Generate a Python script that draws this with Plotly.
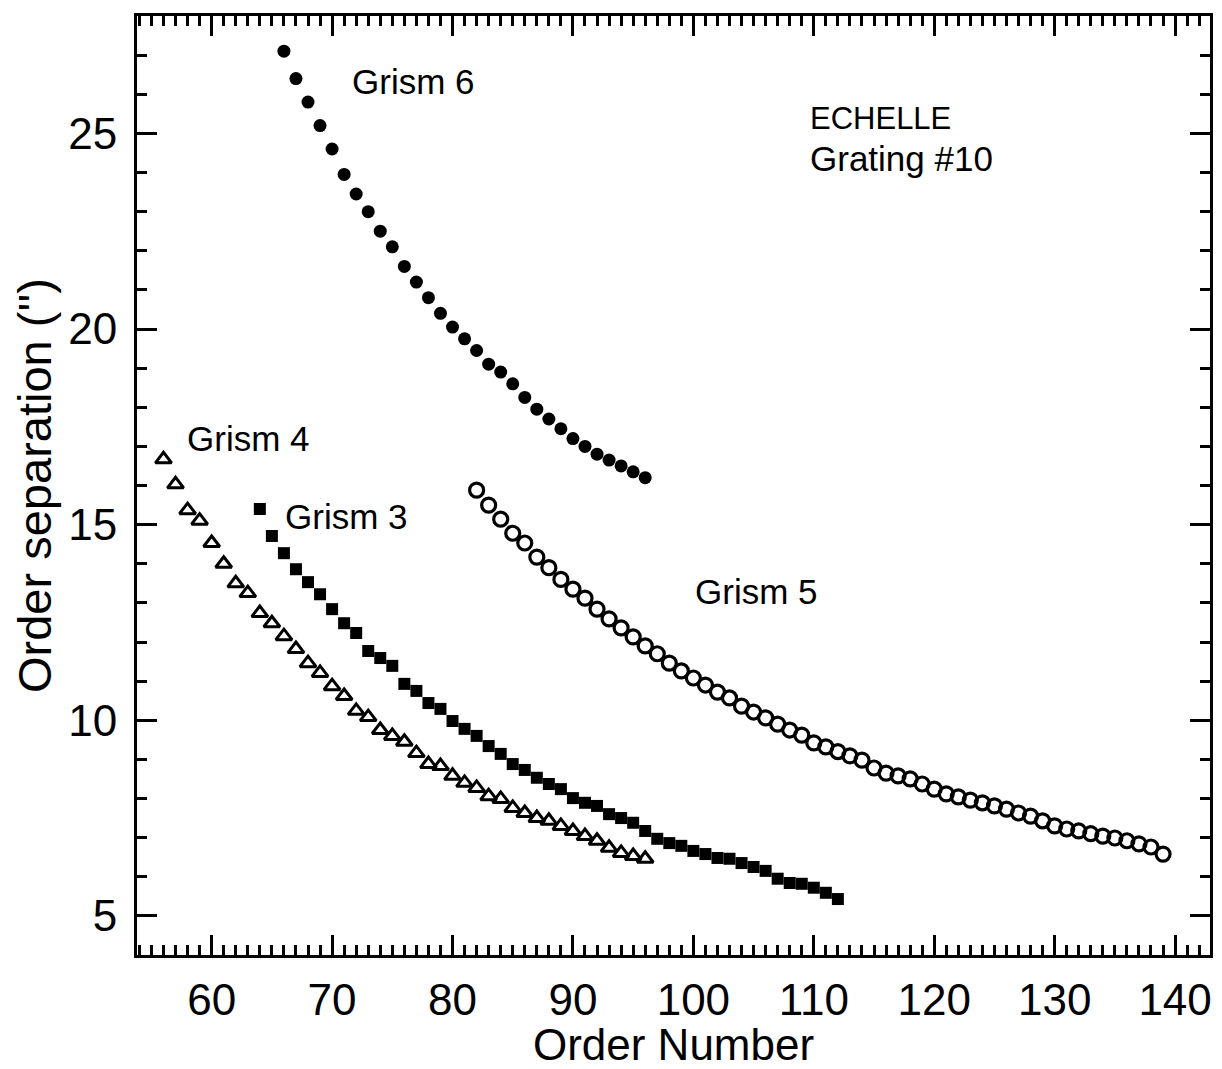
import plotly.graph_objects as go

# ---- data (order number vs order separation in arcsec) ----
grism3_order = list(range(64, 113))
grism3_sep = [15.4, 14.71, 14.27, 13.86, 13.53, 13.22, 12.84, 12.48, 12.23, 11.77,
              11.59, 11.39, 10.93, 10.75, 10.44, 10.29, 9.98, 9.78, 9.6, 9.34,
              9.14, 8.88, 8.73, 8.53, 8.37, 8.24, 8.01, 7.89, 7.81, 7.6,
              7.5, 7.38, 7.17, 6.97, 6.86, 6.79, 6.66, 6.58, 6.48, 6.46,
              6.35, 6.25, 6.15, 5.95, 5.84, 5.82, 5.72, 5.59, 5.43]

grism4_order = list(range(56, 97))
grism4_sep = [16.67, 16.03, 15.37, 15.1, 14.53, 14.0, 13.5, 13.25, 12.74, 12.48,
              12.15, 11.82, 11.46, 11.21, 10.87, 10.62, 10.24, 10.08, 9.75, 9.6,
              9.45, 9.16, 8.88, 8.83, 8.58, 8.4, 8.27, 8.06, 7.99, 7.76,
              7.63, 7.5, 7.43, 7.3, 7.17, 7.04, 6.92, 6.74, 6.61, 6.53, 6.46]

grism5_order = list(range(82, 140))
grism5_sep = [15.88, 15.5, 15.14, 14.78, 14.53, 14.17, 13.9, 13.6, 13.35, 13.12,
              12.84, 12.59, 12.36, 12.13, 11.9, 11.7, 11.46, 11.26, 11.08, 10.9,
              10.72, 10.57, 10.36, 10.21, 10.06, 9.9, 9.75, 9.62, 9.42, 9.32,
              9.2, 9.09, 8.98, 8.78, 8.65, 8.58, 8.5, 8.37, 8.24, 8.12,
              8.04, 7.96, 7.89, 7.81, 7.73, 7.63, 7.55, 7.43, 7.3, 7.22,
              7.17, 7.1, 7.04, 6.99, 6.92, 6.84, 6.76, 6.58]

grism6_order = list(range(66, 97))
grism6_sep = [27.1, 26.4, 25.8, 25.2, 24.6, 23.95, 23.45, 23.0, 22.5, 22.1,
              21.6, 21.2, 20.8, 20.4, 20.05, 19.75, 19.45, 19.1, 18.9, 18.6,
              18.25, 17.95, 17.7, 17.45, 17.2, 17.0, 16.8, 16.65, 16.5, 16.35, 16.2]

x_ticks = [60, 70, 80, 90, 100, 110, 120, 130, 140]
y_ticks = [5, 10, 15, 20, 25]

labels = ["Grism 6", "ECHELLE", "Grating #10", "Grism 4", "Grism 3", "Grism 5"]
label_x = [71.5, 109.5, 109.5, 57.8, 65.9, 100.0]
label_y = [26.33, 25.38, 24.36, 17.2, 15.22, 13.3]
label_size = [35, 31, 35, 35, 35, 35]

FONT = "Liberation Sans"

fig = go.Figure()
fig.add_trace(go.Scatter(x=grism4_order, y=grism4_sep, mode="markers",
                         marker=dict(symbol="triangle-up-open", size=14, color="black",
                                     line=dict(width=3, color="black"))))
fig.add_trace(go.Scatter(x=grism3_order, y=grism3_sep, mode="markers",
                         marker=dict(symbol="square", size=12, color="black")))
fig.add_trace(go.Scatter(x=grism5_order, y=grism5_sep, mode="markers",
                         marker=dict(symbol="circle-open", size=14, color="black",
                                     line=dict(width=3.2, color="black"))))
fig.add_trace(go.Scatter(x=grism6_order, y=grism6_sep, mode="markers",
                         marker=dict(symbol="circle", size=13, color="black")))

for t, xx, yy, sz in zip(labels, label_x, label_y, label_size):
    fig.add_annotation(x=xx, y=yy, xref="x", yref="y", text=t, showarrow=False,
                       xanchor="left", yanchor="middle",
                       font=dict(family=FONT, size=sz, color="black"))

axis_common = dict(
    showgrid=False, zeroline=False, showline=True, linecolor="black", linewidth=3,
    mirror="ticks", ticks="inside", ticklen=20, tickwidth=3, tickcolor="black",
    automargin=False,
    tickfont=dict(family=FONT, size=44, color="black"),
    minor=dict(ticks="inside", ticklen=10, tickwidth=2.5, tickcolor="black", dtick=1, showgrid=False),
)

fig.update_xaxes(range=[53.8, 142.9], tickvals=x_ticks, ticklabelstandoff=4,
                 title=dict(text="Order Number", font=dict(family=FONT, size=44, color="black"), standoff=9),
                 **axis_common)
fig.update_yaxes(range=[4.0, 28.0], tickvals=y_ticks, ticklabelstandoff=8,
                 title=dict(text="Order separation ('')", font=dict(family=FONT, size=47, color="black"), standoff=2),
                 **axis_common)

fig.update_layout(width=1222, height=1069, showlegend=False,
                  plot_bgcolor="white", paper_bgcolor="white",
                  margin=dict(l=137, r=12, t=16, b=114))

fig.write_html("out.html")
